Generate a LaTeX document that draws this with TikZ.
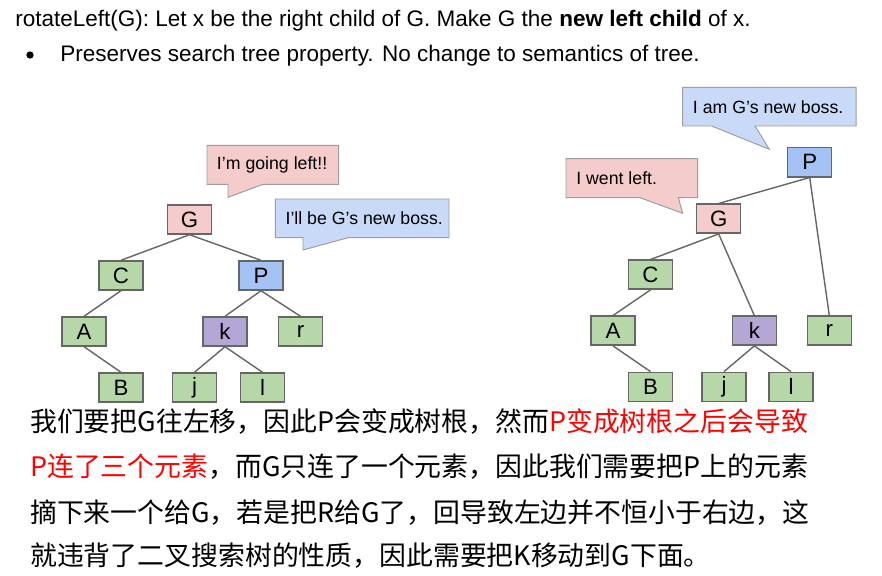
\documentclass[tikz,border=0pt]{standalone}
\usepackage{fontspec}
\setmainfont{Liberation Sans}
\newfontfamily\cjk{Noto Sans CJK SC}
\definecolor{leafgreen}{HTML}{B6D7A8}
\definecolor{rootpink}{HTML}{F4CCCC}
\definecolor{bossblue}{HTML}{A4C2F4}
\definecolor{talkblue}{HTML}{C9DAF8}
\definecolor{kpurple}{HTML}{B4A7D6}
\definecolor{edgegray}{HTML}{666666}
\definecolor{rimgray}{HTML}{9E9E9E}
\usetikzlibrary{positioning}

\begin{document}
\begin{tikzpicture}[x=0.025cm, y=-0.025cm,
  tnode/.style={draw=edgegray, line width=1pt, minimum width=1.1cm, minimum height=0.725cm, inner sep=0pt, font=\fontsize{15.8}{18}\selectfont},
  edge/.style={draw=edgegray, line width=1pt},
  bubble/.style={draw=rimgray, line width=0.7pt},
  talk/.style={anchor=west, inner sep=0pt, font=\fontsize{12.6}{15}\selectfont},
  head/.style={anchor=base west, inner sep=0pt, font=\fontsize{16}{19}\selectfont},
  zh/.style={anchor=base west, inner sep=0pt, font=\cjk\fontsize{19.1}{22}\selectfont}
]
  \useasboundingbox[fill=white] (0,0) rectangle (882,576);

  % heading
  \node[head] (title) at (15,26.7) {rotateLeft(G): Let x be the right child of G. Make G the \textbf{new left child} of x.};
  \fill (30,55) circle (2.6pt);
  \node[head] (point) at (60,61.7) {Preserves search tree property. No change to semantics of tree.};

  % speech bubbles, left tree
  \draw[bubble, fill=rootpink] (207,145.3) -- (338.7,145.3) -- (338.7,184.3) -- (263,184.3) -- (228,197.3) -- (228,184.3) -- (207,184.3) -- cycle;
  \node[talk] (goleft) at (216.7,165) {I’m going left!!};
  \draw[bubble, fill=talkblue] (275.3,199) -- (449,199) -- (449,237.7) -- (348,237.7) -- (303,250) -- (303,237.7) -- (275.3,237.7) -- cycle;
  \node[talk] (willboss) at (285.3,218.3) {I’ll be G’s new boss.};

  % left tree
  \node[tnode, fill=rootpink] (G) at (189.5,219.5) {G};
  \node[tnode, fill=leafgreen] (C) at (121,275.5) {C};
  \node[tnode, fill=bossblue] (P) at (261,275.5) {P};
  \node[tnode, fill=leafgreen] (A) at (84,331.5) {A};
  \node[tnode, fill=kpurple] (k) at (225,331.5) {k};
  \node[tnode, fill=leafgreen] (r) at (300.5,331.5) {r};
  \node[tnode, fill=leafgreen] (B) at (121,387.5) {B};
  \node[tnode, fill=leafgreen] (j) at (194.5,387.5) {j};
  \node[tnode, fill=leafgreen] (l) at (262.5,387.5) {l};
  \foreach \u/\v in {G/C, G/P, C/A, A/B, P/k, P/r, k/j, k/l}
    \draw[edge] (\u.south) -- (\v.north);

  % speech bubbles, right tree
  \draw[bubble, fill=talkblue] (682.7,87.3) -- (856,87.3) -- (856,126) -- (755,126) -- (769.3,149.3) -- (711.7,126) -- (682.7,126) -- cycle;
  \node[talk] (amboss) at (692.7,107) {I am G’s new boss.};
  \draw[bubble, fill=rootpink] (566,158.7) -- (697.7,158.7) -- (697.7,197.7) -- (678.3,197.7) -- (682.7,213.3) -- (640,197.7) -- (566,197.7) -- cycle;
  \node[talk] (wentleft) at (576,178.3) {I went left.};

  % right tree
  \node[tnode, fill=bossblue] (P2) at (809.7,162.3) {P};
  \node[tnode, fill=rootpink] (G2) at (718.7,218.7) {G};
  \node[tnode, fill=leafgreen] (C2) at (650.5,274.7) {C};
  \node[tnode, fill=leafgreen] (A2) at (613,330.7) {A};
  \node[tnode, fill=kpurple] (k2) at (754.3,330.7) {k};
  \node[tnode, fill=leafgreen] (r2) at (829.3,330.7) {r};
  \node[tnode, fill=leafgreen] (B2) at (650.5,386.8) {B};
  \node[tnode, fill=leafgreen] (j2) at (724,386.8) {j};
  \node[tnode, fill=leafgreen] (l2) at (791,386.8) {l};
  \foreach \u/\v in {P2/G2, P2/r2, G2/C2, G2/k2, C2/A2, A2/B2, k2/j2, k2/l2}
    \draw[edge] (\u.south) -- (\v.north);

  % explanation
  \node[zh] (line1) at (30,432) {我们要把G往左移，因此P会变成树根，然而\textcolor{red}{P变成树根之后会导致}};
  \node[zh] (line2) at (30,477) {\textcolor{red}{P连了三个元素}，而G只连了一个元素，因此我们需要把P上的元素};
  \node[zh] (line3) at (30,522) {摘下来一个给G，若是把R给G了，回导致左边并不恒小于右边，这};
  \node[zh] (line4) at (30,566) {就违背了二叉搜索树的性质，因此需要把K移动到G下面。};
\end{tikzpicture}
\end{document}
